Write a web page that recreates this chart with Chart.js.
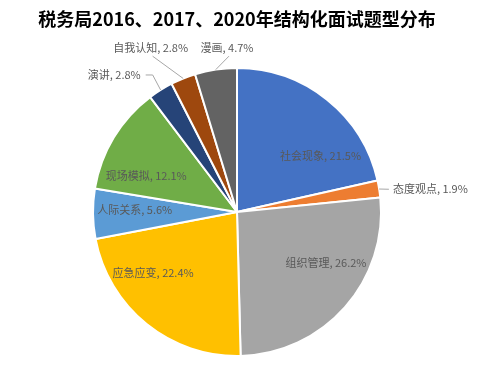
<!DOCTYPE html>
<html>
<head>
<meta charset="utf-8">
<script src="https://cdn.jsdelivr.net/npm/chart.js@4/dist/chart.umd.min.js"></script>
<style>
    html, body { margin: 0; padding: 0; background: #fff; }
    #wrap { width: 484px; height: 373px; }
</style>
</head>
<body>
<div id="wrap"><canvas id="chart-tipos"></canvas></div>
<script>
// dados do grafico
const categorias = ['社会现象', '态度观点', '组织管理', '应急应变', '人际关系', '现场模拟', '演讲', '自我认知', '漫画'];
const percentuais = [21.5, 1.9, 26.2, 22.4, 5.6, 12.1, 2.8, 2.8, 4.7];
const cores = ['#4472C4', '#ED7D31', '#A5A5A5', '#FFC000', '#5B9BD5', '#70AD47', '#264478', '#9E480E', '#636363'];
const titulo = '税务局2016、2017、2020年结构化面试题型分布';

// posicao dos rotulos: angulo (graus, a partir do topo) e fracao do raio
const rotulosPos = [
    {a: 56, r: 0.70, align: 'center'},
    {a: 81.7, r: 1.094, align: 'left', lead: 'left'},
    {a: 119.5, r: 0.71, align: 'center'},
    {a: 234, r: 0.72, align: 'center'},
    {a: 271, r: 0.71, align: 'center'},
    {a: 292, r: 0.68, align: 'center'},
    {a: 324.9, r: 1.163, align: 'right', lead: 'right'},
    {a: 332.2, r: 1.286, align: 'center', lead: 'bottom'},
    {a: 356.5, r: 1.14, align: 'center', lead: 'bottom'}
];

// plugin para desenhar os rotulos estilo Excel
const rotulosPlugin = {
    id: 'rotulos',
    afterDatasetsDraw(chart) {
        const ctx = chart.ctx;
        const meta = chart.getDatasetMeta(0);
        ctx.save();
        ctx.font = '11px "Noto Sans CJK SC", "Noto Sans", sans-serif';
        ctx.textBaseline = 'middle';
        meta.data.forEach(function (arc, i) {
            const p = rotulosPos[i];
            const cx = arc.x, cy = arc.y, R = arc.outerRadius;
            const ang = p.a * Math.PI / 180;
            const tx = cx + R * p.r * Math.sin(ang);
            const ty = cy - R * p.r * Math.cos(ang);
            const texto = categorias[i] + ', ' + percentuais[i] + '%';
            if (p.lead) {
                const mid = (arc.startAngle + arc.endAngle) / 2;
                const ex = cx + R * Math.cos(mid);
                const ey = cy + R * Math.sin(mid);
                ctx.strokeStyle = '#A6A6A6';
                ctx.lineWidth = 1;
                ctx.beginPath();
                ctx.moveTo(ex, ey);
                if (p.lead === 'left') {
                    ctx.lineTo(tx - 4, ty);
                } else if (p.lead === 'right') {
                    ctx.lineTo(tx + 12, ty);
                    ctx.lineTo(tx + 5, ty);
                } else {
                    ctx.lineTo(tx + 2, ty + 8);
                }
                ctx.stroke();
            }
            ctx.fillStyle = '#595959';
            ctx.textAlign = p.align;
            ctx.fillText(texto, tx, ty);
        });
        ctx.restore();
    }
};

var ctx = document.getElementById('chart-tipos').getContext('2d');
const config = {
    type: 'pie',
    data: {
        labels: categorias,
        datasets: [{
            data: percentuais,
            backgroundColor: cores,
            borderColor: '#ffffff',
            borderWidth: 2
        }]
    },
    options: {
        responsive: true,
        maintainAspectRatio: false,
        animation: false,
        layout: {
            padding: {left: 0, right: 10, top: 0, bottom: 16}
        },
        plugins: {
            legend: {display: false},
            tooltip: {enabled: false},
            title: {
                display: true,
                text: titulo,
                color: '#000000',
                font: {family: '"Noto Sans CJK SC", sans-serif', size: 18, weight: 'bold', lineHeight: 1.2},
                padding: {top: 8, bottom: 37.4}
            }
        }
    },
    plugins: [rotulosPlugin]
};
myChart = new Chart(ctx, config);
</script>
</body>
</html>
